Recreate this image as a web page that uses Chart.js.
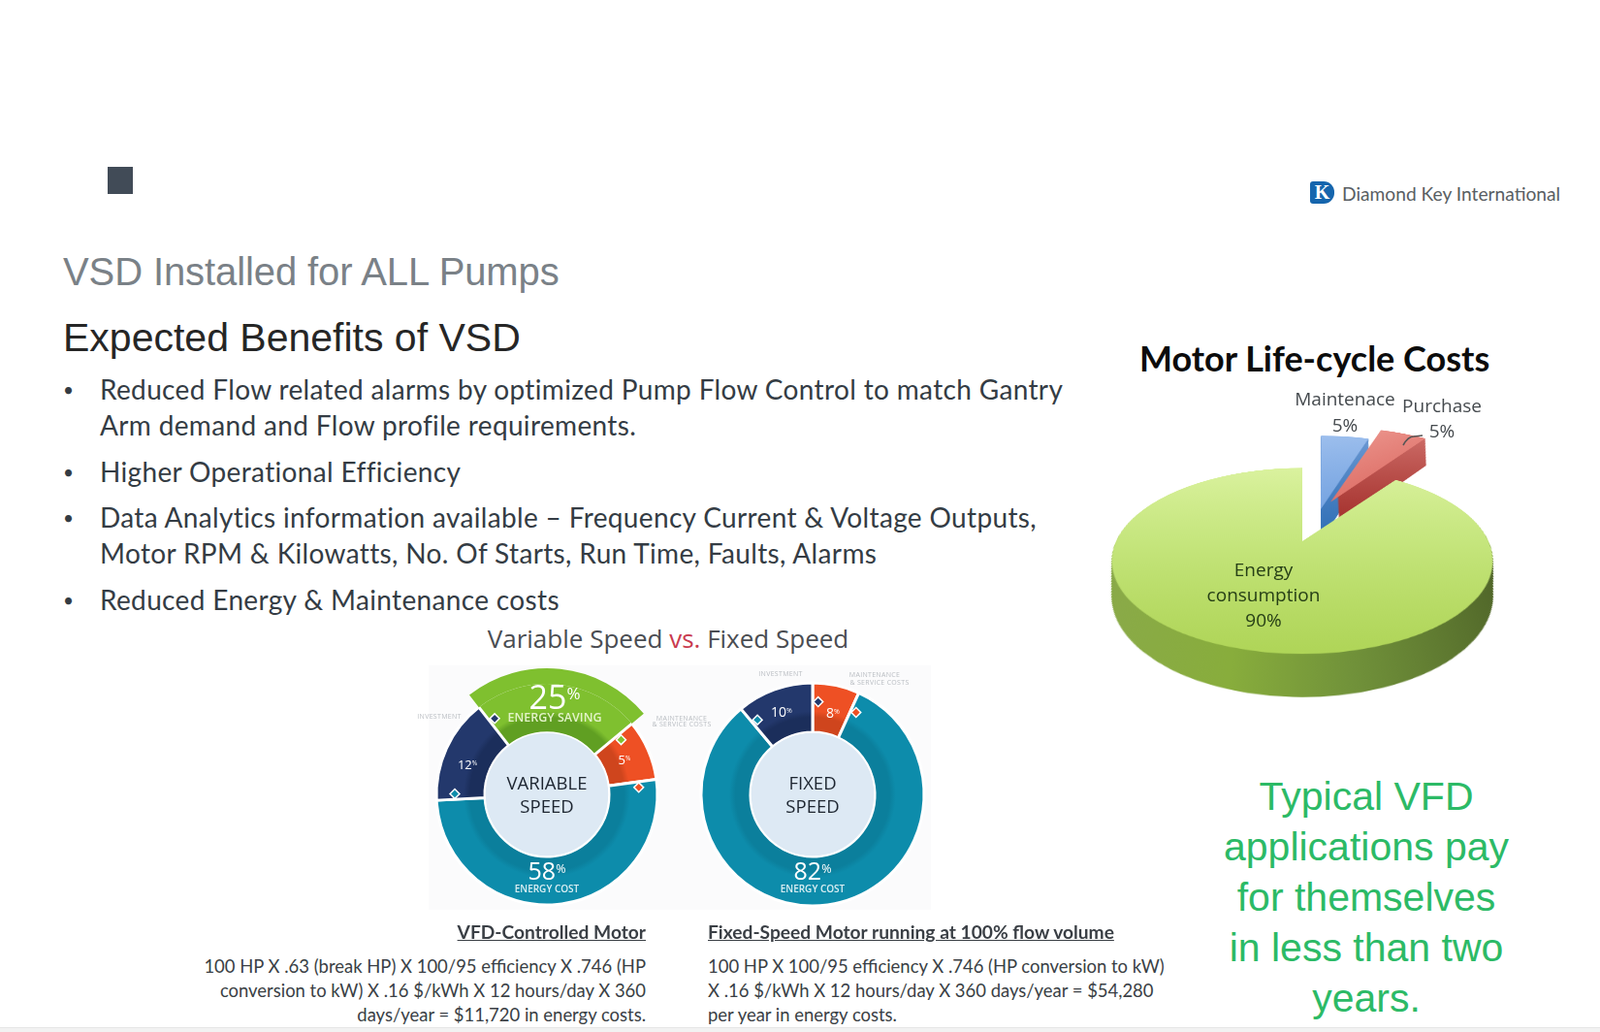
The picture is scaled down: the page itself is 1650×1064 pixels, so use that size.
<!DOCTYPE html>
<html lang="en">
<head>
<meta charset="UTF-8">
<title>VSD Installed for ALL Pumps</title>
<script src="https://cdn.jsdelivr.net/npm/chart.js"></script>
<style>
  html, body { margin: 0; padding: 0; background: #fff; }
  body { position: relative; width: 1650px; height: 1064px; overflow: hidden; font-family: Lato, sans-serif; }
  .t { position: absolute; white-space: nowrap; line-height: 1; }
  .c { transform: translate(-50%, -50%); text-align: center; }
  .r { text-align: right; }
  canvas { position: absolute; }
  #square { position: absolute; left: 111px; top: 172px; width: 26px; height: 28px; background: #414b57; }
  #footer { position: absolute; left: 0; top: 1059px; width: 1650px; height: 5px; background: #f2f2f2; border-top: 1px solid #e6e6e6; }
  #donutBack { position: absolute; left: 442px; top: 686px; width: 518px; height: 252px; background: #fbfbfc; }
  #logo { position: absolute; left: 1351px; top: 187px; width: 25px; height: 23px; background: #1565ad; border-radius: 3px 11px 11px 3px; color: #fff; font: bold 20px/23px "Liberation Serif", serif; text-align: center; }
  .title1 { left: 65px; top: 258px; font: 40px "Liberation Sans", sans-serif; letter-spacing: -.1px; color: #7a8187; }
  .title2 { left: 65px; top: 325px; font: 41px "Liberation Sans", sans-serif; color: #262626; }
  .bullet { font-size: 28px; letter-spacing: .35px; color: #343c44; }
  .dot { left: 65px; font-size: 19px; margin-top: 5px; }
  .small { font-size: 7px; color: #b9bdc2; font-family: "Open Sans", sans-serif; letter-spacing: .3px; }
  .white { color: #fff; font-family: "Open Sans", sans-serif; font-weight: 400; }
  .cap { color: #d9eef2; font-family: "Open Sans", sans-serif; font-weight: 600; font-size: 10px; }
  .mid { font-size: 18.5px; color: #1d2530; font-family: "Open Sans", sans-serif; }
  .calc { font-size: 18.45px; margin-top: 1px; color: #3a3f45; }
  .head { font-size: 19.2px; font-weight: 700; color: #3a3f45; text-decoration: underline; }
  .pieText { font-size: 19px; font-family: "Open Sans", sans-serif; color: #454a4e; }
  .pieIn { color: #263f16; }
  .green { font: 41px "Liberation Sans", sans-serif; color: #2cba66; }
  sup { font-size: .5em; vertical-align: baseline; position: relative; top: -.6em; }
</style>
</head>
<body>
  <div id="square"></div>
  <div id="footer"></div>
  <div id="donutBack"></div>

  <div id="logo">K</div>
  <div class="t" style="left:1384px;top:190px;font-size:19.2px;color:#595e63">Diamond Key International</div>

  <div class="t title1">VSD Installed for ALL Pumps</div>
  <div class="t title2">Expected Benefits of VSD</div>

  <div class="t bullet dot" style="top:387px">•</div>
  <div class="t bullet" style="left:103px;top:387px">Reduced Flow related alarms by optimized Pump Flow Control to match Gantry</div>
  <div class="t bullet" style="left:103px;top:424px">Arm demand and Flow profile requirements.</div>
  <div class="t bullet dot" style="top:472px">•</div>
  <div class="t bullet" style="left:103px;top:472px">Higher Operational Efficiency</div>
  <div class="t bullet dot" style="top:519px">•</div>
  <div class="t bullet" style="left:103px;top:519px">Data Analytics information available – Frequency Current &amp; Voltage Outputs,</div>
  <div class="t bullet" style="left:103px;top:556px">Motor RPM &amp; Kilowatts, No. Of Starts, Run Time, Faults, Alarms</div>
  <div class="t bullet dot" style="top:604px">•</div>
  <div class="t bullet" style="left:103px;top:604px">Reduced Energy &amp; Maintenance costs</div>

  <div class="t c" style="left:689px;top:658px;font:26px 'Open Sans',sans-serif;color:#4a4d52">Variable Speed <span style="color:#c93a4e">vs.</span> Fixed Speed</div>

  <canvas id="variableChart" width="300" height="300" style="left:414px;top:669px"></canvas>
  <canvas id="fixedChart" width="300" height="300" style="left:688px;top:669px"></canvas>

  <div class="t c mid" style="left:564px;top:807px">VARIABLE</div>
  <div class="t c mid" style="left:564px;top:831px">SPEED</div>
  <div class="t c mid" style="left:838px;top:807px">FIXED</div>
  <div class="t c mid" style="left:838px;top:831px">SPEED</div>

  <div class="t c white" id="variableLabel0" style="left:572px;top:718px;font-size:34px"></div>
  <div class="t c cap" style="left:572px;top:740px;font-size:12.5px;color:#e3f3c8">ENERGY SAVING</div>
  <div class="t c white" id="variableLabel1" style="left:644px;top:783px;font-size:13px"></div>
  <div class="t c white" id="variableLabel2" style="left:564px;top:897px;font-size:25px"></div>
  <div class="t c cap" style="left:564px;top:916px">ENERGY COST</div>
  <div class="t c white" id="variableLabel3" style="left:482px;top:788px;font-size:13px"></div>

  <div class="t c white" id="fixedLabel0" style="left:859px;top:735px;font-size:14px"></div>
  <div class="t c white" id="fixedLabel1" style="left:838px;top:897px;font-size:25px"></div>
  <div class="t c cap" style="left:838px;top:916px">ENERGY COST</div>
  <div class="t c white" id="fixedLabel2" style="left:806px;top:734px;font-size:14px"></div>

  <div class="t c small" style="left:453px;top:738px">INVESTMENT</div>
  <div class="t c small" style="left:703px;top:740px">MAINTENANCE</div>
  <div class="t c small" style="left:703px;top:746px">&amp; SERVICE COSTS</div>
  <div class="t c small" style="left:805px;top:694px">INVESTMENT</div>
  <div class="t c small" style="left:902px;top:695px">MAINTENANCE</div>
  <div class="t c small" style="left:907px;top:703px">&amp; SERVICE COSTS</div>

  <div class="t head r" style="right:984px;top:951px">VFD-Controlled Motor</div>
  <div class="t head" style="left:730px;top:951px">Fixed-Speed Motor running at 100% flow volume</div>
  <div class="t calc r" style="right:984px;top:986px">100 HP X .63 (break HP) X 100/95 efficiency X .746 (HP</div>
  <div class="t calc r" style="right:984px;top:1011px">conversion to kW) X .16 $/kWh X 12 hours/day X 360</div>
  <div class="t calc r" style="right:984px;top:1036px">days/year = $11,720 in energy costs.</div>
  <div class="t calc" style="left:730px;top:986px">100 HP X 100/95 efficiency X .746 (HP conversion to kW)</div>
  <div class="t calc" style="left:730px;top:1011px">X .16 $/kWh X 12 hours/day X 360 days/year = $54,280</div>
  <div class="t calc" style="left:730px;top:1036px">per year in energy costs.</div>

  <div class="t" style="left:1175px;top:351px;font-size:36px;font-weight:700;color:#0c0c0c">Motor Life-cycle Costs</div>

  <canvas id="pieLifted" width="540" height="540"></canvas>
  <canvas id="pieChart" width="540" height="540"></canvas>

  <svg style="position:absolute;left:1440px;top:440px" width="40" height="30"><path d="M7 19 Q12 10 18 10 L27 9" fill="none" stroke="#555" stroke-width="1.6"/></svg>

  <div class="t c pieText" style="left:1387px;top:411px">Maintenace</div>
  <div class="t c pieText" style="left:1387px;top:438px" id="pieShare0"></div>
  <div class="t c pieText" style="left:1487px;top:418px">Purchase</div>
  <div class="t c pieText" style="left:1487px;top:444px" id="pieShare1"></div>
  <div class="t c pieText pieIn" style="left:1303px;top:587px">Energy</div>
  <div class="t c pieText pieIn" style="left:1303px;top:613px">consumption</div>
  <div class="t c pieText pieIn" style="left:1303px;top:639px" id="pieShare2"></div>

  <div class="t c green" style="left:1409px;top:821px">Typical VFD</div>
  <div class="t c green" style="left:1409px;top:873px">applications pay</div>
  <div class="t c green" style="left:1409px;top:925px">for themselves</div>
  <div class="t c green" style="left:1409px;top:977px">in less than two</div>
  <div class="t c green" style="left:1409px;top:1029px">years.</div>

  <script>
    // the donuts in the picture are not drawn to their printed percentages,
    // so the slices use the share of the circle
    const variableCategories = ['Energy saving', 'Maintenance & service costs', 'Energy cost', 'Investment'];
    const variablePrinted = [25, 5, 58, 12];
    const variableSlices = [24.5, 8.9, 51.3, 15.3];

    const fixedCategories = ['Maintenance & service costs', 'Energy cost', 'Investment'];
    const fixedPrinted = [8, 82, 10];
    const fixedSlices = [6.8, 82.1, 11.1];

    const pieCategories = ['Maintenace', 'Purchase', 'Energy consumption'];
    const pieValues = [5, 5, 90];

    const ringColors = {
      green: ['#609f22', '#7fc02f'],
      orange: ['#cf451d', '#ee5024'],
      teal: ['#0b7f9c', '#0d8cab'],
      navy: ['#1b2e5b', '#23386c']
    };

    function ringFill(chart, name) {
      const cx = chart.width / 2, cy = chart.height / 2;
      const g = chart.ctx.createRadialGradient(cx, cy, 64, cx, cy, 116);
      g.addColorStop(0, ringColors[name][0]);
      g.addColorStop(0.3, ringColors[name][0]);
      g.addColorStop(0.42, ringColors[name][1]);
      g.addColorStop(1, ringColors[name][1]);
      return g;
    }

    // light disc in the hole and the small diamonds on the slice boundaries
    const donutDecor = {
      id: 'donutDecor',
      afterDatasetsDraw(chart) {
        const meta = chart.getDatasetMeta(chart.data.datasets.length - 1);
        const ctx = chart.ctx;
        const first = meta.data[0];
        ctx.save();
        ctx.beginPath();
        ctx.arc(first.x, first.y, first.innerRadius, 0, Math.PI * 2);
        ctx.fillStyle = '#dde9f4';
        ctx.fill();
        ctx.lineWidth = 1.5;
        ctx.strokeStyle = '#fff';
        ctx.stroke();
        const names = chart.data.datasets[chart.data.datasets.length - 1].ringNames;
        meta.data.forEach((arc, i) => {
          const prev = names[(i + names.length - 1) % names.length];
          const r = arc.innerRadius + (arc.outerRadius - arc.innerRadius) * 0.62;
          const a = arc.startAngle + 0.06;
          ctx.save();
          ctx.translate(arc.x + Math.cos(a) * r, arc.y + Math.sin(a) * r);
          ctx.rotate(Math.PI / 4);
          ctx.fillStyle = ringColors[prev][1];
          ctx.strokeStyle = '#fff';
          ctx.lineWidth = 1.5;
          ctx.fillRect(-3.5, -3.5, 7, 7);
          ctx.strokeRect(-3.5, -3.5, 7, 7);
          ctx.restore();
        });
        ctx.restore();
      }
    };

    function makeDonut(id, categories, slices, names, rotation, radius, raisedIndex) {
      const ring = {
        data: slices,
        ringNames: names,
        weight: 50,
        backgroundColor: c => ringFill(c.chart, names[c.dataIndex]),
        borderColor: '#fff',
        borderWidth: c => c.dataIndex === raisedIndex ? 0 : 3
      };
      const datasets = [ring];
      if (raisedIndex >= 0) {
        datasets.unshift({
          data: slices,
          weight: radius - 114,
          backgroundColor: c => c.dataIndex === raisedIndex ? ringColors.green[1] : 'rgba(0,0,0,0)',
          borderWidth: 0
        });
      }
      return new Chart(document.getElementById(id), {
        type: 'doughnut',
        data: { labels: categories, datasets: datasets },
        options: {
          responsive: false,
          animation: false,
          rotation: rotation,
          radius: radius,
          cutout: (64 / radius * 100) + '%',
          plugins: { legend: { display: false }, tooltip: { enabled: false } }
        },
        plugins: [donutDecor]
      });
    }

    makeDonut('variableChart', variableCategories, variableSlices, ['green', 'orange', 'teal', 'navy'], -38, 130, 0);
    makeDonut('fixedChart', fixedCategories, fixedSlices, ['orange', 'teal', 'navy'], 0, 115, -1);

    function percent(v) { return v + '<sup>%</sup>'; }
    variablePrinted.forEach((v, i) => { document.getElementById('variableLabel' + i).innerHTML = percent(v); });
    fixedPrinted.forEach((v, i) => { document.getElementById('fixedLabel' + i).innerHTML = percent(v); });
    pieValues.forEach((v, i) => { document.getElementById('pieShare' + i).textContent = v + '%'; });

    // the 3D look: the canvas is tipped back with css, the wall is the arc path
    // repeated downwards inside the canvas, narrowing to undo the perspective
    const WALL = 68;
    const pieWall = {
      id: 'pieWall',
      beforeDatasetsDraw(chart) {
        const ctx = chart.ctx;
        const walls = chart.data.datasets[0].wallFills(ctx);
        chart.getDatasetMeta(0).data.forEach((arc, i) => {
          if (!walls[i]) return;
          const half = (arc.startAngle + arc.endAngle) / 2;
          const sweep = arc.endAngle - arc.startAngle;
          const off = (arc.options.offset || 0) / 4 * (2 - Math.sin(Math.min(Math.PI, sweep)));
          const ox = arc.x + Math.cos(half) * off;
          const oy = arc.y + Math.sin(half) * off;
          ctx.fillStyle = walls[i];
          for (let d = WALL; d > 0; d--) {
            ctx.beginPath();
            ctx.moveTo(ox, oy + d);
            ctx.arc(ox, oy + d, arc.outerRadius * (1 - 0.0011 * d), arc.startAngle, arc.endAngle);
            ctx.closePath();
            ctx.fill();
          }
        });
      }
    };

    function makePie(id, tops, walls, offsets, x, y) {
      const el = document.getElementById(id);
      el.style.left = (1343 - 270) + 'px';
      el.style.top = (558 - 270) + 'px';
      el.style.transform = 'translate(' + x + 'px,' + y + 'px) perspective(797px) rotateX(61.5deg)';
      return new Chart(el, {
        type: 'doughnut',
        data: {
          labels: pieCategories,
          datasets: [{ data: pieValues, wallFills: walls, backgroundColor: c => tops(c.chart.ctx)[c.dataIndex], borderWidth: 0, offset: offsets }]
        },
        options: {
          responsive: false,
          animation: false,
          radius: 192,
          cutout: 0,
          plugins: { legend: { display: false }, tooltip: { enabled: false } }
        },
        plugins: [pieWall]
      });
    }

    const clear = 'rgba(0,0,0,0)';

    makePie('pieLifted',
      ctx => {
        const blue = ctx.createLinearGradient(270, 40, 300, 300);
        blue.addColorStop(0, '#a3c3ef');
        blue.addColorStop(1, '#6f9fdf');
        const red = ctx.createLinearGradient(300, 40, 420, 200);
        red.addColorStop(0, '#ee9c94');
        red.addColorStop(1, '#dc6a62');
        return [blue, red, clear];
      },
      ctx => {
        const blue = ctx.createLinearGradient(0, 60, 0, 320);
        blue.addColorStop(0, '#6f9bd4');
        blue.addColorStop(1, '#2f6fb6');
        const red = ctx.createLinearGradient(0, 60, 0, 300);
        red.addColorStop(0, '#cf6f6a');
        red.addColorStop(1, '#a32f2b');
        return [blue, red, null];
      },
      [24, 100, 0], 18, -30);

    makePie('pieChart',
      ctx => {
        const g = ctx.createLinearGradient(0, 60, 0, 470);
        g.addColorStop(0, '#dcf3a2');
        g.addColorStop(0.5, '#c6e67e');
        g.addColorStop(1, '#aed456');
        return [clear, clear, g];
      },
      ctx => {
        const w = ctx.createLinearGradient(80, 0, 460, 0);
        w.addColorStop(0, '#8aa94a');
        w.addColorStop(0.35, '#88ad3c');
        w.addColorStop(0.6, '#71923a');
        w.addColorStop(1, '#4e6328');
        return [null, null, w];
      },
      [0, 0, 0], 0, 0);
  </script>
</body>
</html>
